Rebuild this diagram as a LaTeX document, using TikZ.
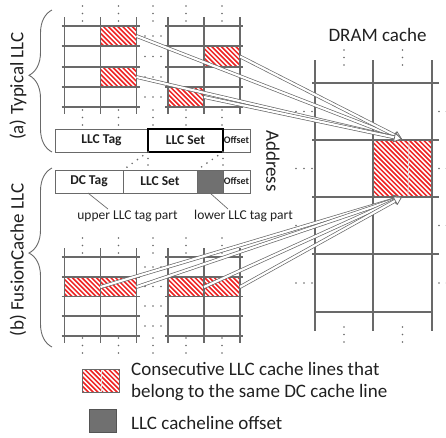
\documentclass[tikz,border=0pt]{standalone}
\usepackage{fontspec}
\setmainfont{Carlito}
\usetikzlibrary{arrows.meta,decorations.pathreplacing,calc}

\definecolor{linegray}{RGB}{105,105,105}
\definecolor{hatchred}{RGB}{238,36,36}
\definecolor{offgray}{RGB}{112,112,112}
\definecolor{txt}{RGB}{32,32,32}

\tikzset{
  gridline/.style={linegray, line width=1.5pt},
  box/.style={draw=linegray, line width=0.8pt, minimum height=23pt, inner sep=0pt,
    outer sep=0pt, anchor=north west, text=txt, font=\fontsize{13.5}{15}\selectfont\bfseries},
  offbox/.style={box, minimum width=27pt, font=\fontsize{10}{11}\selectfont\bfseries},
  label/.style={text=txt, inner sep=0pt, font=\fontsize{19}{22}\selectfont},
  small/.style={text=txt, inner sep=0pt, font=\fontsize{13.5}{15}\selectfont},
  bracestyle/.style={draw=linegray, line width=0.9pt, decorate,
    decoration={brace, amplitude=23pt, aspect=#1}},
  hollowline/.style={draw=linegray, line width=0.7pt, double=white,
    double distance=2.2pt, shorten >=7.5pt},
  hollowhead/.style={draw=linegray, line width=0.7pt,
    -{Triangle[open, length=8pt, width=9.5pt, fill=white]}},
  leader/.style={draw=linegray, line width=0.7pt},
  dotline/.style={draw=linegray, line width=1.8pt, line cap=round,
    dash pattern=on 0pt off 6.5pt},
}

% red/white diagonal hatching inside a rectangle
\newcommand\hatchrect[4]{%
  \begin{scope}
    \clip (#1,#2) rectangle (#3,#4);
    \fill[hatchred] (#1,#2) rectangle (#3,#4);
    \foreach \k in {-16,...,20}{
      \draw[white, line width=1.5pt] ({#1+\k*4.8},#2) -- ++(70,70);}
  \end{scope}}
% three dots stacked vertically / horizontally
\newcommand\vdotsat[2]{\foreach \d in {0,7.5,15}{\fill[linegray] (#1,#2+\d) circle (0.95);}}
\newcommand\hdotsat[2]{\foreach \d in {0,8,16}{\fill[linegray] (#1+\d,#2) circle (0.95);}}
% one LLC grid block: left x, right x, top line, bottom line, row lines
\newcommand\llcblock[5]{%
  \foreach \c in {#1,{(#1+#2)/2},#2}{\draw[gridline] ({\c},#3-9) -- ({\c},#4+7);}
  \foreach \r in {#5}{\draw[gridline] (#1-3,\r) -- (#2+3,\r);}}
% hollow double-line arrow from one named point to another
\newcommand\maparrow[2]{%
  \draw[hollowline] (#1) -- (#2);
  \draw[hollowhead] ($(#2)!8pt!(#1)$) -- (#2);}

\begin{document}
\begin{tikzpicture}[x=1pt, y=-1pt]
\useasboundingbox (0,0) rectangle (446,437);

% ---------- (a) typical LLC ----------
\hatchrect{100.5}{26}{136.5}{46}
\hatchrect{100.5}{67}{136.5}{87}
\hatchrect{204}{46}{240}{67}
\hatchrect{168}{87}{204}{107}
\llcblock{64.5}{136.5}{26}{107}{26,46,67,87,107}
\llcblock{168}{240}{26}{107}{26,46,67,87,107}
\foreach \x in {82.5,118.5,153,186,222}{\vdotsat{\x}{6}\vdotsat{\x}{110}}
\foreach \y in {36,56.5,77,97}{\hdotsat{145}{\y}}

% address fields
\node[box, minimum width=93pt] (llctag) at (55,129) {LLC Tag};
\node[offbox] (offa) at (223,129) {Offset};
\node[box, minimum width=75pt, draw=black, line width=1.3pt] (llcset) at (148,129) {LLC Set};

\node[box, minimum width=68pt] (dctag) at (55,170) {DC Tag};
\node[box, minimum width=74pt] (setb) at (123,170) {LLC Set};
\node[box, minimum width=26pt, fill=offgray] (lowtag) at (197,170) {};
\node[offbox] (offb) at (223,170) {Offset};

\draw[dotline] (llcset.south west) -- (setb.north west);
\draw[dotline] (llcset.south east) -- (lowtag.north west);
\draw[dotline] (llcset.south west) -- ([xshift=25pt]setb.north west);
\draw[dotline] (llcset.south east) -- (offb.north west);

\node[label, rotate=-90] (addr) at (273,161) {Address};

\node[small] (upper) at (127.5,216) {upper LLC tag part};
\node[small] (lower) at (243.5,216) {lower LLC tag part};
\coordinate (dcfoot) at (88,193);
\coordinate (upfoot) at (108,209);
\coordinate (lowfoot) at (210,193);
\coordinate (lowend) at (228,209);
\draw[leader] (dcfoot) -- (upfoot);
\draw[leader] (lowfoot) -- (lowend);

% ---------- (b) FusionCache LLC ----------
\hatchrect{64.5}{277}{136.5}{296.5}
\hatchrect{168}{277}{240}{296.5}
\llcblock{64.5}{136.5}{257}{336}{257,277,296.5,316,336}
\llcblock{168}{240}{257}{336}{257,277,296.5,316,336}
\foreach \x in {82.5,118.5,153,186,222}{\vdotsat{\x}{238}\vdotsat{\x}{338}}
\foreach \y in {267,286.5,306,326}{\hdotsat{145}{\y}}

% braces and side labels
\draw[bracestyle=0.54] (52,152) -- (52,10);
\draw[bracestyle=0.525] (52,347) -- (52,168);
\node[label, rotate=90] (tya) at (18,86) {(a) Typical LLC};
\node[label, rotate=90] (tyb) at (18,260) {(b) FusionCache LLC};

% ---------- DRAM cache ----------
\node[label] (dram) at (377.5,35) {DRAM cache};
\hatchrect{373}{140}{432}{197}
\draw[white!80!linegray, line width=0.8pt] (409,140) -- (408,197);
\foreach \c in {315,373,432}{\draw[gridline] (\c,60) -- (\c,331);}
\foreach \r in {83,140,197,254}{\draw[gridline] (312,\r) -- (439,\r);}
\draw[gridline] (315,312) -- (432,312);
\foreach \x in {344,402.5}{\vdotsat{\x}{50}\vdotsat{\x}{327}}
\foreach \y in {111.5,168.5,225.5,283}{\hdotsat{296}{\y}
  \fill[linegray] (439,\y) circle (0.95); \fill[linegray] (446.5,\y) circle (0.95);}

% ---------- mapping arrows ----------
\coordinate (tipA) at (402,139);
\coordinate (tipB) at (402,197);
\coordinate (a1) at (136.5,36);
\coordinate (a2) at (240,56.5);
\coordinate (a3) at (136.5,77);
\coordinate (a4) at (204,97);
\coordinate (b1) at (100.5,287);
\coordinate (b2) at (136.5,287);
\coordinate (b3) at (204,287);
\coordinate (b4) at (240,287);
\foreach \s in {a1,a2,a3,a4}{\maparrow{\s}{tipA}}
\foreach \s in {b1,b2,b3,b4}{\maparrow{\s}{tipB}}

% ---------- legend ----------
\hatchrect{82}{369}{119}{392}
\draw[white!80!linegray, line width=0.8pt] (101,369) -- (101,392);
\draw[linegray, line width=0.8pt] (82,369) rectangle (119,392);
\node[draw=linegray!80!black, line width=0.8pt, fill=offgray, minimum width=27pt,
  minimum height=23pt, inner sep=0pt, anchor=north west] (legoff) at (89,409) {};
\node[label, align=left, anchor=west] (leghatch) at (131,382)
  {Consecutive LLC cache lines that\\belong to the same DC cache line};
\node[label, anchor=west] (legofftext) at (131,423) {LLC cacheline offset};
\end{tikzpicture}
\end{document}
